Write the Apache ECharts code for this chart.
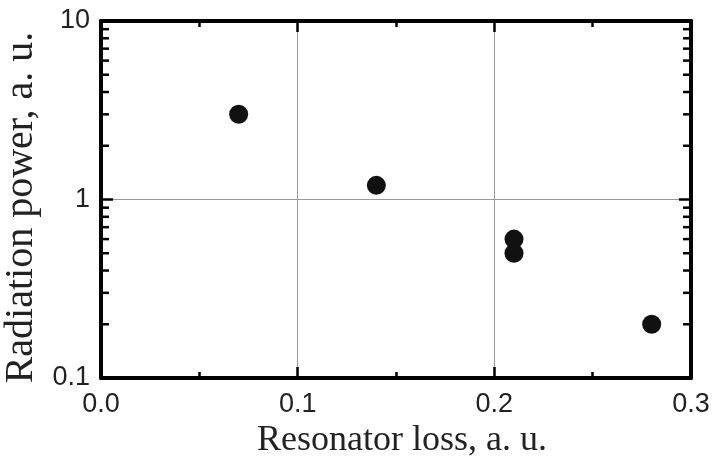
<!DOCTYPE html>
<html>
<head>
<meta charset="utf-8">
<script src="https://cdn.jsdelivr.net/npm/echarts@6/dist/echarts.min.js"></script>
<style>html,body{margin:0;padding:0;background:#fff}#c{width:718px;height:465px}</style>
</head>
<body>
<div id="c"></div>
<script>
var xValues = [0.07, 0.14, 0.21, 0.21, 0.28];
var yValues = [3, 1.2, 0.6, 0.5, 0.2];
var yMinorTicks = [0.2, 0.3, 0.4, 0.5, 0.6, 0.7, 0.8, 0.9, 2, 3, 4, 5, 6, 7, 8, 9];
var xTitle = 'Resonator loss, a. u.';
var yTitle = 'Radiation power, a. u.';

var chart = echarts.init(document.getElementById('c'));
var points = xValues.map(function (x, i) { return [x, yValues[i]]; });
var sans = 'Liberation Sans, Arial, sans-serif';
var serif = 'Liberation Serif, Times New Roman, serif';

var xBase = {
  type: 'value', min: 0, max: 0.3, interval: 0.1,
  axisLine: { show: true, onZero: false, lineStyle: { color: '#000', width: 4 } },
  axisTick: { show: true, inside: true, length: 11, lineStyle: { color: '#000', width: 2.5 } },
  minorTick: { show: true, splitNumber: 2, length: 6, lineStyle: { color: '#000', width: 2.5 } },
  splitLine: { show: false },
  minorSplitLine: { show: false }
};
var yBase = {
  type: 'log', logBase: 10, min: 0.1, max: 10,
  axisLine: { show: true, onZero: false, lineStyle: { color: '#000', width: 4 } },
  axisTick: { show: true, inside: true, length: 12, lineStyle: { color: '#000', width: 2.5 } },
  splitLine: { show: false }
};

chart.setOption({
  animation: false,
  backgroundColor: '#fff',
  grid: { left: 101, right: 27, top: 21, bottom: 87, containLabel: false, outerBoundsMode: 'none' },
  xAxis: [
    Object.assign({}, xBase, {
      position: 'bottom',
      name: xTitle, nameLocation: 'middle', nameGap: 36,
      nameTextStyle: { fontFamily: serif, fontSize: 36, lineHeight: 36, color: '#222', padding: [0, 0, 0, 12] },
      axisLabel: { show: true, margin: 13, fontFamily: sans, fontSize: 27, color: '#222',
        formatter: function (v) { return v.toFixed(1); } },
      splitLine: { show: true, lineStyle: { color: '#999', width: 1 } }
    }),
    Object.assign({}, xBase, { position: 'top', axisLabel: { show: false } })
  ],
  yAxis: [
    Object.assign({}, yBase, {
      position: 'left',
      name: yTitle, nameLocation: 'middle', nameGap: 60, nameRotate: 90,
      nameTextStyle: { fontFamily: serif, fontSize: 40, lineHeight: 40, color: '#222', padding: [0, 16, 0, 0] },
      axisLabel: { show: true, margin: 11, fontFamily: sans, fontSize: 27, color: '#222',
        formatter: function (v) { return v >= 1 ? String(Math.round(v)) : String(v); } },
      splitLine: { show: true, lineStyle: { color: '#999', width: 1 } }
    }),
    Object.assign({}, yBase, { position: 'right', axisLabel: { show: false } })
  ],
  series: [
    {
      type: 'custom',
      xAxisIndex: 0, yAxisIndex: 0,
      silent: true,
      data: yMinorTicks.map(function (v) { return [0, v]; }),
      renderItem: function (params, api) {
        var v = api.value(1);
        var l = api.coord([0, v]);
        var r = api.coord([0.3, v]);
        return {
          type: 'group',
          children: [
            { type: 'line', shape: { x1: l[0], y1: l[1], x2: l[0] + 8, y2: l[1] }, style: { stroke: '#000', lineWidth: 2.5 } },
            { type: 'line', shape: { x1: r[0], y1: r[1], x2: r[0] - 8, y2: r[1] }, style: { stroke: '#000', lineWidth: 2.5 } }
          ]
        };
      },
      z: 3
    },
    {
      type: 'scatter',
      xAxisIndex: 0, yAxisIndex: 0,
      data: points,
      symbol: 'circle', symbolSize: 19,
      itemStyle: { color: '#111', opacity: 1 },
      z: 5
    }
  ]
});
</script>
</body>
</html>
